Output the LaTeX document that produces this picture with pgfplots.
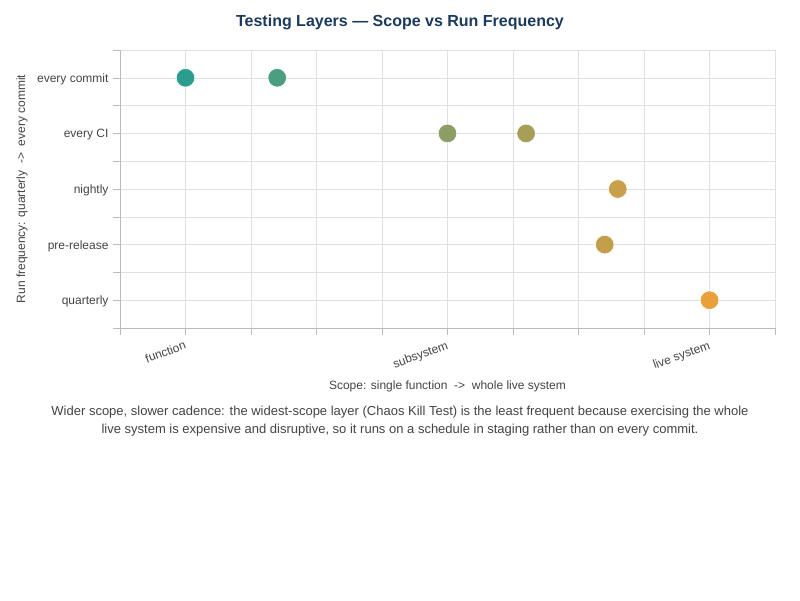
\documentclass[border=0pt]{standalone}
\usepackage{pgfplots}
\pgfplotsset{compat=1.18}
\usepackage{fontspec}
\setmainfont{Liberation Sans}
\definecolor{titlec}{HTML}{1B3A5C}
\definecolor{txt}{HTML}{444444}
\definecolor{gridc}{HTML}{E0E0E0}
\definecolor{axc}{HTML}{BBBBBB}
\begin{document}
\begin{tikzpicture}[x=1pt,y=1pt]
\path[fill=white] (0,0) rectangle (800,600);
\node[font=\bfseries\fontsize{16}{19}\selectfont, text=titlec] at (400,578) {Testing Layers — Scope vs Run Frequency};
\begin{axis}[
  at={(120pt,272pt)}, anchor=south west,
  scale only axis, width=655pt, height=278pt,
  xmin=0, xmax=10, ymin=-0.5, ymax=4.5,
  axis lines*=left,
  axis line style={axc},
  xtick={0,...,10},
  xticklabels={,function,,,,subsystem,,,,live system,},
  ytick={0,...,4},
  yticklabels={quarterly,pre-release,nightly,every CI,every commit},
  minor ytick={-0.5,0.5,1.5,2.5,3.5,4.5},
  grid=both,
  major grid style={gridc},
  minor grid style={gridc},
  tick align=outside,
  major tick length=7pt, minor tick length=7pt,
  tick style={axc},
  every tick/.style={axc},
  /pgf/number format/assume math mode=true,
  ticklabel style={font=\fontsize{12}{14}\selectfont, text=txt},
  xticklabel style={rotate=20, anchor=north east, yshift=-1pt},
  yticklabel style={xshift=-1pt, yshift=-1.5pt},
  xlabel={Scope: single function\ \ ->\ \ whole live system},
  ylabel={Run frequency: quarterly\ \ ->\ \ every commit},
  label style={font=\fontsize{12}{14}\selectfont, text=txt},
  xlabel style={at={(axis description cs:0.5,0)}, anchor=center, yshift=-58pt},
  ylabel style={at={(axis description cs:0,0.5)}, anchor=center, yshift=98pt},
  colormap={tor}{rgb255=(42,157,143) rgb255=(233,160,59)},
  point meta min=1, point meta max=9,
  clip=false,
]
\addplot[scatter, only marks, mark=*, mark size=9.3pt, point meta=x,
  scatter/use mapped color={draw=white, fill=mapped color}, line width=0.6pt]
  coordinates {(1,4) (2.4,4) (5,3) (6.2,3) (7.6,2) (7.4,1) (9,0)};
\end{axis}
\node[align=center, font=\fontsize{13}{18}\selectfont, text=txt] at (400,179) {Wider scope, slower cadence: the widest-scope layer (Chaos Kill Test) is the least frequent because exercising the whole\\live system is expensive and disruptive, so it runs on a schedule in staging rather than on every commit.};
\end{tikzpicture}
\end{document}
